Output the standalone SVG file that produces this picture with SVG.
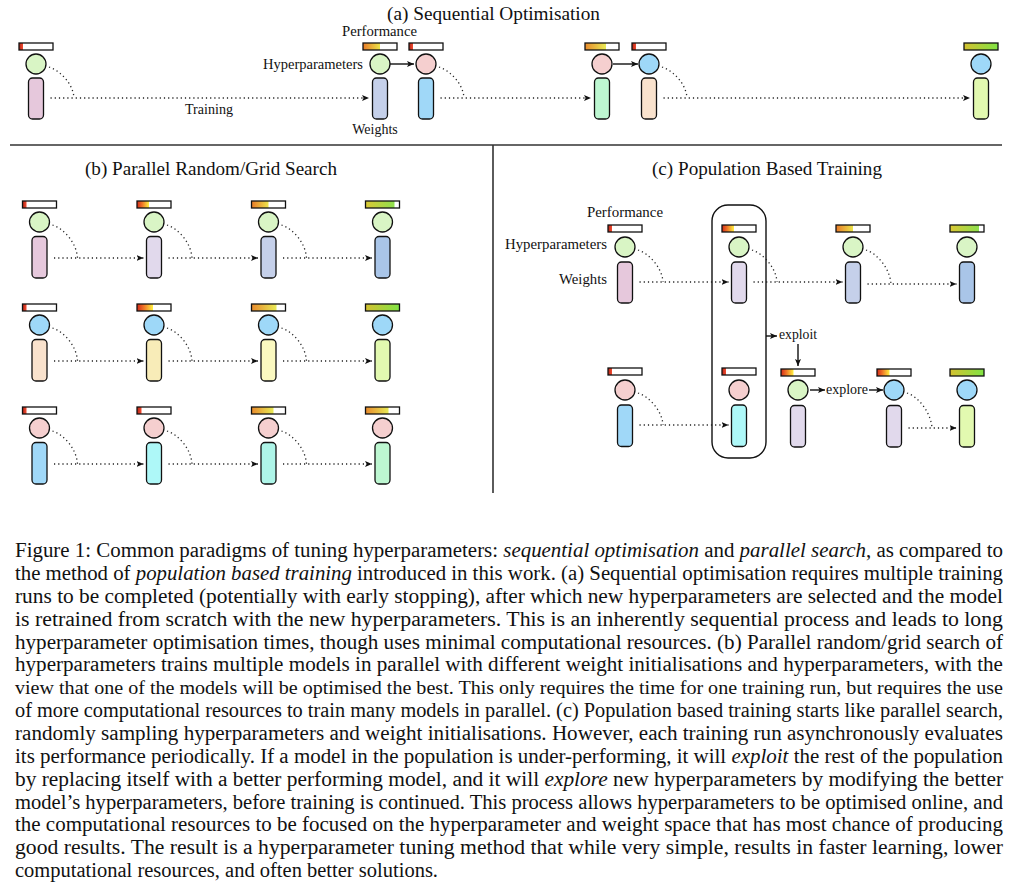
<svg xmlns="http://www.w3.org/2000/svg" width="1021" height="889" viewBox="0 0 1021 889">
<defs>
<style>
.bar{fill:none;stroke:#111;stroke-width:1.3}
.hp{stroke:#111;stroke-width:1.3}
.w{stroke:#111;stroke-width:1.3}
.dot{fill:none;stroke:#222;stroke-width:1.3;stroke-dasharray:1.2 3}
.arr{fill:none;stroke:#111;stroke-width:1.4}
.div{stroke:#333;stroke-width:1.6}
.ttl{font-family:"Liberation Serif","Times New Roman",serif;font-size:18px;fill:#111}
.lbl{font-family:"Liberation Serif","Times New Roman",serif;font-size:14px;fill:#111}
.cap{font-family:"Liberation Serif","Times New Roman",serif;font-size:20.5px;fill:#111}
.it{font-style:italic}
.gn{fill:#d9f5c5}.bl{fill:#9ed8f8}.pk{fill:#f5cfcf}
</style>
<marker id="ah" markerWidth="8" markerHeight="6" refX="7" refY="3" orient="auto" markerUnits="userSpaceOnUse"><path d="M0,0 L7,3 L0,6 L1.6,3z" fill="#111"/></marker>
<linearGradient id="gr" x1="0" x2="1" y1="0" y2="0"><stop offset="0" stop-color="#b82818"/><stop offset="1" stop-color="#f04a30"/></linearGradient>
<linearGradient id="g35" x1="0" x2="1" y1="0" y2="0"><stop offset="0" stop-color="#d42818"/><stop offset="0.45" stop-color="#f07a28"/><stop offset="1" stop-color="#fff040"/></linearGradient>
<linearGradient id="g50" x1="0" x2="1" y1="0" y2="0"><stop offset="0" stop-color="#e87a28"/><stop offset="1" stop-color="#ece44a"/></linearGradient>
<linearGradient id="g65" x1="0" x2="1" y1="0" y2="0"><stop offset="0" stop-color="#e88a2c"/><stop offset="1" stop-color="#e8ea56"/></linearGradient>
<linearGradient id="g85" x1="0" x2="1" y1="0" y2="0"><stop offset="0" stop-color="#dcc834"/><stop offset="1" stop-color="#8ee04e"/></linearGradient>
<linearGradient id="g100" x1="0" x2="1" y1="0" y2="0"><stop offset="0" stop-color="#d4c030"/><stop offset="1" stop-color="#80e444"/></linearGradient>
</defs>
<rect x="0" y="0" width="1021" height="889" fill="#fff"/>

<g id="dividers">
<line class="div" x1="10" y1="145" x2="1002" y2="145"/>
<line class="div" x1="493" y1="145" x2="493" y2="493"/>
</g>

<g id="titles">
<text class="ttl" x="387" y="20" textLength="213" lengthAdjust="spacingAndGlyphs">(a) Sequential Optimisation</text>
<text class="ttl" x="85" y="175" textLength="252" lengthAdjust="spacingAndGlyphs">(b) Parallel Random/Grid Search</text>
<text class="ttl" x="652" y="175" textLength="230" lengthAdjust="spacingAndGlyphs">(c) Population Based Training</text>
</g>

<g id="labels">
<text class="lbl" x="342" y="36" textLength="75" lengthAdjust="spacingAndGlyphs">Performance</text>
<text class="lbl" x="263" y="69" textLength="100" lengthAdjust="spacingAndGlyphs">Hyperparameters</text>
<text class="lbl" x="185" y="114" textLength="48" lengthAdjust="spacingAndGlyphs">Training</text>
<text class="lbl" x="375" y="134" text-anchor="middle">Weights</text>
<text class="lbl" x="587" y="217" textLength="76" lengthAdjust="spacingAndGlyphs">Performance</text>
<text class="lbl" x="505" y="249" textLength="102" lengthAdjust="spacingAndGlyphs">Hyperparameters</text>
<text class="lbl" x="559" y="284" textLength="48" lengthAdjust="spacingAndGlyphs">Weights</text>
<text class="lbl" x="779" y="339" textLength="38" lengthAdjust="spacingAndGlyphs">exploit</text>
<text class="lbl" x="826" y="394" textLength="42" lengthAdjust="spacingAndGlyphs">explore</text>
</g>

<g id="pbt-box"><rect x="712" y="205" width="54" height="253" rx="16" fill="none" stroke="#111" stroke-width="1.4"/></g>

<g id="connectors">
<path class="dot" d="M49,67 C61,71 73,84 74,98"/>
<path class="dot" d="M50.5,98 H369" marker-end="url(#ah)"/>
<path class="dot" d="M439,67 C451,71 463,84 464,98"/>
<path class="dot" d="M440.5,98 H591" marker-end="url(#ah)"/>
<path class="dot" d="M662,67 C674,71 686,84 687,98"/>
<path class="dot" d="M663.5,98 H970" marker-end="url(#ah)"/>
<path class="arr" d="M390,64 H414" marker-end="url(#ah)"/>
<path class="arr" d="M613,64 H638" marker-end="url(#ah)"/>
<path class="dot" d="M52.5,225 C64.5,229 76.5,243 77.5,258"/>
<path class="dot" d="M54,258 H143.5" marker-end="url(#ah)"/>
<path class="dot" d="M167,225 C179,229 191,243 192,258"/>
<path class="dot" d="M168.5,258 H258" marker-end="url(#ah)"/>
<path class="dot" d="M281.5,225 C293.5,229 305.5,243 306.5,258"/>
<path class="dot" d="M283,258 H372" marker-end="url(#ah)"/>
<path class="dot" d="M52.5,328 C64.5,332 76.5,346 77.5,361"/>
<path class="dot" d="M54,361 H143.5" marker-end="url(#ah)"/>
<path class="dot" d="M167,328 C179,332 191,346 192,361"/>
<path class="dot" d="M168.5,361 H258" marker-end="url(#ah)"/>
<path class="dot" d="M281.5,328 C293.5,332 305.5,346 306.5,361"/>
<path class="dot" d="M283,361 H372" marker-end="url(#ah)"/>
<path class="dot" d="M52.5,431 C64.5,435 76.5,449 77.5,464"/>
<path class="dot" d="M54,464 H143.5" marker-end="url(#ah)"/>
<path class="dot" d="M167,431 C179,435 191,449 192,464"/>
<path class="dot" d="M168.5,464 H258" marker-end="url(#ah)"/>
<path class="dot" d="M281.5,431 C293.5,435 305.5,449 306.5,464"/>
<path class="dot" d="M283,464 H372" marker-end="url(#ah)"/>
<path class="dot" d="M638,250 C650,254 662,268 663,282"/>
<path class="dot" d="M639.5,282 H728.5" marker-end="url(#ah)"/>
<path class="dot" d="M752,250 C764,254 776,268 777,282"/>
<path class="dot" d="M753.5,282 H842.5" marker-end="url(#ah)"/>
<path class="dot" d="M866,250 C878,254 890,269 891,284"/>
<path class="dot" d="M867.5,284 H956.5" marker-end="url(#ah)"/>
<path class="dot" d="M638,393 C650,397 662,411 663,425"/>
<path class="dot" d="M639.5,425 H728.5" marker-end="url(#ah)"/>
<path class="dot" d="M907,393 C919,397 931,413 932,428"/>
<path class="dot" d="M908.5,428 H956.5" marker-end="url(#ah)"/>
<path class="arr" d="M766,336 H777" marker-end="url(#ah)"/>
<path class="arr" d="M798,344 V366" marker-end="url(#ah)"/>
<path class="arr" d="M810,390 H825" marker-end="url(#ah)"/>
<path class="arr" d="M869,390 H883" marker-end="url(#ah)"/>
</g>

<g id="a1"><rect x="19" y="43" width="4" height="7" fill="url(#gr)"/><rect class="bar" x="19" y="43" width="34" height="7"/><circle class="hp gn" cx="36" cy="64" r="10"/><rect class="w" x="28.5" y="78" width="15" height="41" rx="4" fill="#e6c8dc"/></g>
<g id="a2"><rect x="363" y="43" width="17" height="7" fill="url(#g50)"/><rect class="bar" x="363" y="43" width="34" height="7"/><circle class="hp gn" cx="380" cy="64" r="10"/><rect class="w" x="372.5" y="78" width="15" height="41" rx="4" fill="#c5d0ea"/></g>
<g id="a3"><rect x="409" y="43" width="4" height="7" fill="url(#gr)"/><rect class="bar" x="409" y="43" width="34" height="7"/><circle class="hp pk" cx="426" cy="64" r="10"/><rect class="w" x="418.5" y="78" width="15" height="41" rx="4" fill="#a0d8f8"/></g>
<g id="a4"><rect x="585" y="43" width="21" height="7" fill="url(#g65)"/><rect class="bar" x="585" y="43" width="34" height="7"/><circle class="hp pk" cx="602" cy="64" r="10"/><rect class="w" x="594.5" y="78" width="15" height="41" rx="4" fill="#bdf7d1"/></g>
<g id="a5"><rect x="632" y="43" width="4" height="7" fill="url(#gr)"/><rect class="bar" x="632" y="43" width="34" height="7"/><circle class="hp bl" cx="649" cy="64" r="10"/><rect class="w" x="641.5" y="78" width="15" height="41" rx="4" fill="#f9e2cd"/></g>
<g id="a6"><rect x="964" y="43" width="34" height="7" fill="url(#g100)"/><rect class="bar" x="964" y="43" width="34" height="7"/><circle class="hp bl" cx="981" cy="64" r="10"/><rect class="w" x="973.5" y="78" width="15" height="41" rx="4" fill="#e2f9b0"/></g>

<g id="b11"><rect x="22.5" y="201" width="4" height="7" fill="url(#gr)"/><rect class="bar" x="22.5" y="201" width="34" height="7"/><circle class="hp gn" cx="39.5" cy="222" r="10"/><rect class="w" x="32" y="236.5" width="15" height="41.5" rx="4" fill="#e6c8dc"/></g>
<g id="b12"><rect x="137" y="201" width="12" height="7" fill="url(#g35)"/><rect class="bar" x="137" y="201" width="34" height="7"/><circle class="hp gn" cx="154" cy="222" r="10"/><rect class="w" x="146.5" y="236.5" width="15" height="41.5" rx="4" fill="#e1d9ec"/></g>
<g id="b13"><rect x="251.5" y="201" width="17" height="7" fill="url(#g50)"/><rect class="bar" x="251.5" y="201" width="34" height="7"/><circle class="hp gn" cx="268.5" cy="222" r="10"/><rect class="w" x="261" y="236.5" width="15" height="41.5" rx="4" fill="#c5d0ea"/></g>
<g id="b14"><rect x="365.5" y="201" width="29" height="7" fill="url(#g85)"/><rect class="bar" x="365.5" y="201" width="34" height="7"/><circle class="hp gn" cx="382.5" cy="222" r="10"/><rect class="w" x="375" y="236.5" width="15" height="41.5" rx="4" fill="#a9c5e8"/></g>
<g id="b21"><rect x="22.5" y="304" width="4" height="7" fill="url(#gr)"/><rect class="bar" x="22.5" y="304" width="34" height="7"/><circle class="hp bl" cx="39.5" cy="325" r="10"/><rect class="w" x="32" y="339.5" width="15" height="41.5" rx="4" fill="#f9e2cd"/></g>
<g id="b22"><rect x="137" y="304" width="16" height="7" fill="url(#g35)"/><rect class="bar" x="137" y="304" width="34" height="7"/><circle class="hp bl" cx="154" cy="325" r="10"/><rect class="w" x="146.5" y="339.5" width="15" height="41.5" rx="4" fill="#f8ecb8"/></g>
<g id="b23"><rect x="251.5" y="304" width="25" height="7" fill="url(#g65)"/><rect class="bar" x="251.5" y="304" width="34" height="7"/><circle class="hp bl" cx="268.5" cy="325" r="10"/><rect class="w" x="261" y="339.5" width="15" height="41.5" rx="4" fill="#fbf9c0"/></g>
<g id="b24"><rect x="365.5" y="304" width="34" height="7" fill="url(#g100)"/><rect class="bar" x="365.5" y="304" width="34" height="7"/><circle class="hp bl" cx="382.5" cy="325" r="10"/><rect class="w" x="375" y="339.5" width="15" height="41.5" rx="4" fill="#e2f9b0"/></g>
<g id="b31"><rect x="22.5" y="407" width="4" height="7" fill="url(#gr)"/><rect class="bar" x="22.5" y="407" width="34" height="7"/><circle class="hp pk" cx="39.5" cy="428" r="10"/><rect class="w" x="32" y="442.5" width="15" height="41.5" rx="4" fill="#a0d8f8"/></g>
<g id="b32"><rect x="137" y="407" width="4.5" height="7" fill="url(#gr)"/><rect class="bar" x="137" y="407" width="34" height="7"/><circle class="hp pk" cx="154" cy="428" r="10"/><rect class="w" x="146.5" y="442.5" width="15" height="41.5" rx="4" fill="#aef8f8"/></g>
<g id="b33"><rect x="251.5" y="407" width="22" height="7" fill="url(#g65)"/><rect class="bar" x="251.5" y="407" width="34" height="7"/><circle class="hp pk" cx="268.5" cy="428" r="10"/><rect class="w" x="261" y="442.5" width="15" height="41.5" rx="4" fill="#aef5e8"/></g>
<g id="b34"><rect x="365.5" y="407" width="23" height="7" fill="url(#g65)"/><rect class="bar" x="365.5" y="407" width="34" height="7"/><circle class="hp pk" cx="382.5" cy="428" r="10"/><rect class="w" x="375" y="442.5" width="15" height="41.5" rx="4" fill="#bdf7d1"/></g>

<g id="c11"><rect x="608" y="225" width="4" height="7" fill="url(#gr)"/><rect class="bar" x="608" y="225" width="34" height="7"/><circle class="hp gn" cx="625" cy="247" r="10"/><rect class="w" x="617.5" y="262" width="15" height="41" rx="4" fill="#e6c8dc"/></g>
<g id="c12"><rect x="722" y="225" width="12" height="7" fill="url(#g35)"/><rect class="bar" x="722" y="225" width="34" height="7"/><circle class="hp gn" cx="739" cy="247" r="10"/><rect class="w" x="731.5" y="262" width="15" height="41" rx="4" fill="#e1d9ec"/></g>
<g id="c13"><rect x="836" y="225" width="17" height="7" fill="url(#g50)"/><rect class="bar" x="836" y="225" width="34" height="7"/><circle class="hp gn" cx="853" cy="247" r="10"/><rect class="w" x="845.5" y="262" width="15" height="41" rx="4" fill="#c5d0ea"/></g>
<g id="c14"><rect x="950" y="225" width="29" height="7" fill="url(#g85)"/><rect class="bar" x="950" y="225" width="34" height="7"/><circle class="hp gn" cx="967" cy="247" r="10"/><rect class="w" x="959.5" y="262" width="15" height="41" rx="4" fill="#a9c5e8"/></g>
<g id="c21"><rect x="608" y="368" width="4" height="7" fill="url(#gr)"/><rect class="bar" x="608" y="368" width="34" height="7"/><circle class="hp pk" cx="625" cy="390" r="10"/><rect class="w" x="617.5" y="405" width="15" height="41.5" rx="4" fill="#a0d8f8"/></g>
<g id="c22"><rect x="722" y="368" width="4" height="7" fill="url(#gr)"/><rect class="bar" x="722" y="368" width="34" height="7"/><circle class="hp pk" cx="739" cy="390" r="10"/><rect class="w" x="731.5" y="405" width="15" height="41.5" rx="4" fill="#aef8f8"/></g>
<g id="c23"><rect x="781" y="369" width="12.5" height="7" fill="url(#g35)"/><rect class="bar" x="781" y="369" width="34" height="7"/><circle class="hp gn" cx="798" cy="390" r="10"/><rect class="w" x="790.5" y="405.5" width="15" height="41.5" rx="4" fill="#e1d9ec"/></g>
<g id="c24"><rect x="877" y="369" width="12.5" height="7" fill="url(#g35)"/><rect class="bar" x="877" y="369" width="34" height="7"/><circle class="hp bl" cx="894" cy="390" r="10"/><rect class="w" x="886.5" y="405.5" width="15" height="41.5" rx="4" fill="#e1d9ec"/></g>
<g id="c25"><rect x="950" y="369" width="34" height="7" fill="url(#g100)"/><rect class="bar" x="950" y="369" width="34" height="7"/><circle class="hp bl" cx="967" cy="390" r="10"/><rect class="w" x="959.5" y="405.5" width="15" height="41.5" rx="4" fill="#e2f9b0"/></g>

<g id="caption">
<text class="cap" x="15" y="557" textLength="988" lengthAdjust="spacingAndGlyphs">Figure 1: Common paradigms of tuning hyperparameters: <tspan class="it">sequential optimisation</tspan> and <tspan class="it">parallel search</tspan>, as compared to</text>
<text class="cap" x="15" y="580" textLength="988" lengthAdjust="spacingAndGlyphs">the method of <tspan class="it">population based training</tspan> introduced in this work. (a) Sequential optimisation requires multiple training</text>
<text class="cap" x="15" y="602.5" textLength="988" lengthAdjust="spacingAndGlyphs">runs to be completed (potentially with early stopping), after which new hyperparameters are selected and the model</text>
<text class="cap" x="15" y="625.5" textLength="988" lengthAdjust="spacingAndGlyphs">is retrained from scratch with the new hyperparameters.  This is an inherently sequential process and leads to long</text>
<text class="cap" x="15" y="648.5" textLength="988" lengthAdjust="spacingAndGlyphs">hyperparameter optimisation times, though uses minimal computational resources.  (b) Parallel random/grid search of</text>
<text class="cap" x="15" y="671" textLength="988" lengthAdjust="spacingAndGlyphs">hyperparameters trains multiple models in parallel with different weight initialisations and hyperparameters, with the</text>
<text class="cap" x="15" y="694" style="font-size:19px" textLength="988" lengthAdjust="spacingAndGlyphs">view that one of the models will be optimised the best. This only requires the time for one training run, but requires the use</text>
<text class="cap" x="15" y="717" textLength="988" lengthAdjust="spacingAndGlyphs">of more computational resources to train many models in parallel. (c) Population based training starts like parallel search,</text>
<text class="cap" x="15" y="740" textLength="988" lengthAdjust="spacingAndGlyphs">randomly sampling hyperparameters and weight initialisations.  However, each training run asynchronously evaluates</text>
<text class="cap" x="15" y="762.5" textLength="988" lengthAdjust="spacingAndGlyphs">its performance periodically.  If a model in the population is under-performing, it will <tspan class="it">exploit</tspan> the rest of the population</text>
<text class="cap" x="15" y="785.5" textLength="988" lengthAdjust="spacingAndGlyphs">by replacing itself with a better performing model, and it will <tspan class="it">explore</tspan> new hyperparameters by modifying the better</text>
<text class="cap" x="15" y="808.5" textLength="988" lengthAdjust="spacingAndGlyphs">model’s hyperparameters, before training is continued. This process allows hyperparameters to be optimised online, and</text>
<text class="cap" x="15" y="831" textLength="988" lengthAdjust="spacingAndGlyphs">the computational resources to be focused on the hyperparameter and weight space that has most chance of producing</text>
<text class="cap" x="15" y="854" textLength="988" lengthAdjust="spacingAndGlyphs">good results.  The result is a hyperparameter tuning method that while very simple, results in faster learning, lower</text>
<text class="cap" x="15" y="877">computational resources, and often better solutions.</text>
</g>
</svg>
